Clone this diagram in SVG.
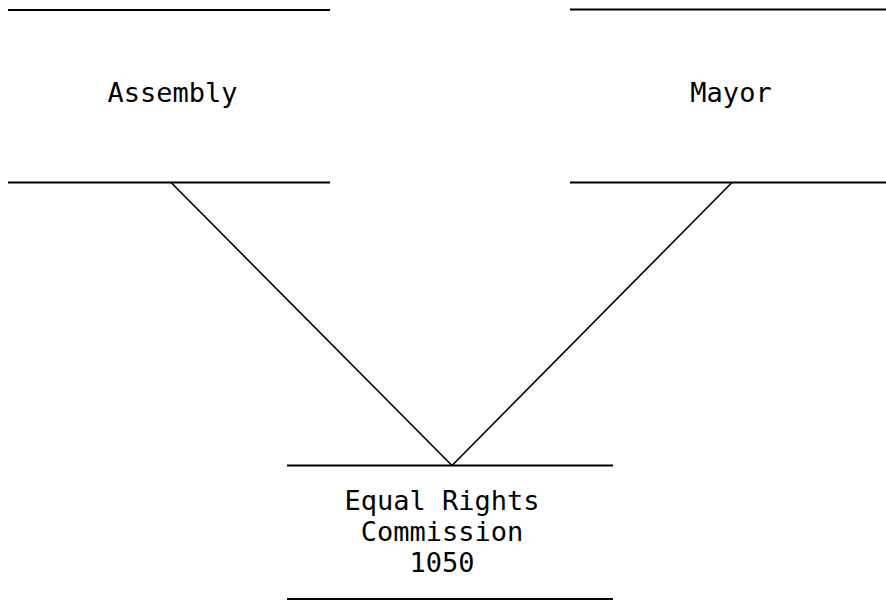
<svg xmlns="http://www.w3.org/2000/svg" width="886" height="601" viewBox="0 0 886 601">
<style>
.rule{stroke:#000;stroke-width:2;fill:none}
.conn{stroke:#000;stroke-width:1.6;fill:none}
.lbl{font-family:"DejaVu Sans Mono","Liberation Mono",monospace;font-size:27px;fill:#000;text-anchor:middle}
</style>
<rect width="886" height="601" fill="#fff"/>
<g id="assembly">
<line class="rule" x1="8" y1="10" x2="330" y2="10"/>
<line class="rule" x1="8" y1="182.5" x2="330" y2="182.5"/>
<text class="lbl" x="172.5" y="102">Assembly</text>
</g>
<g id="mayor">
<line class="rule" x1="570" y1="9.5" x2="886" y2="9.5"/>
<line class="rule" x1="570" y1="182.5" x2="886" y2="182.5"/>
<text class="lbl" x="731" y="102">Mayor</text>
</g>
<g id="erc">
<line class="rule" x1="287" y1="465.5" x2="613" y2="465.5"/>
<line class="rule" x1="287" y1="599" x2="613" y2="599"/>
<text class="lbl" x="442" y="510">Equal Rights</text>
<text class="lbl" x="442" y="541">Commission</text>
<text class="lbl" x="442" y="572">1050</text>
</g>
<g id="connectors">
<line class="conn" x1="171" y1="182.5" x2="452" y2="465.5"/>
<line class="conn" x1="732" y1="182.5" x2="452" y2="465.5"/>
</g>
</svg>
